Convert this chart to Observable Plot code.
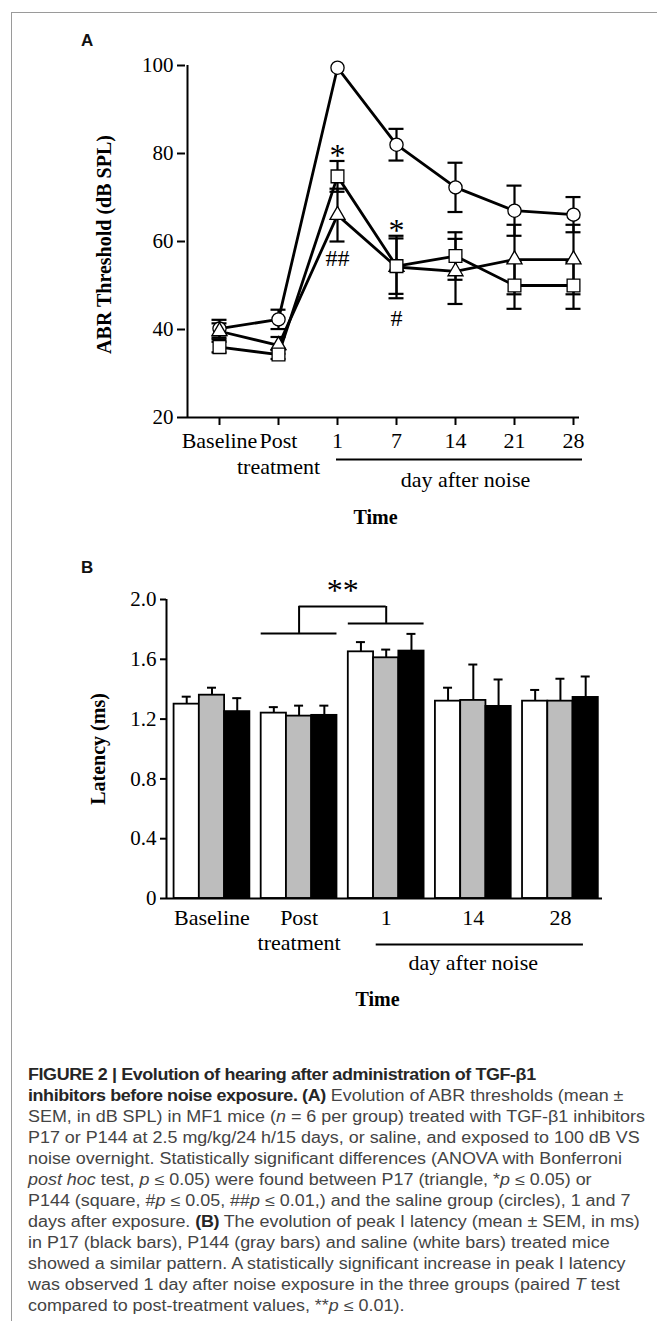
<!DOCTYPE html>
<html>
<head>
<meta charset="utf-8">
<script src="https://cdn.jsdelivr.net/npm/d3@7"></script>
<script src="https://cdn.jsdelivr.net/npm/@observablehq/plot@0.6"></script>
<style>
  body { margin: 0; background: #fff; }
  #page { position: relative; width: 657px; height: 1321px; overflow: hidden; background: #fff; }
  #frame { position: absolute; left: 11px; top: 12px; width: 700px; height: 1400px;
           border-left: 1.5px solid #9a9a9a; border-top: 1.5px solid #9a9a9a; }
  .panel { position: absolute; font: bold 17px "Liberation Sans", Arial, sans-serif; color: #111; line-height: 1; }
  #plotA { position: absolute; left: 0; top: 0; }
  #plotB { position: absolute; left: 0; top: 540px; }
  #caption { position: absolute; left: 28px; top: 1064px; transform-origin: 0 0;
             font-family: "Liberation Sans", Arial, sans-serif; font-size: 15.6px; line-height: 21px; color: #444; }
  #caption div { white-space: nowrap; }
  #caption b { color: #262626; letter-spacing: -0.35px; }
</style>
</head>
<body>
<div id="page">
  <div id="frame"></div>
  <div class="panel" style="left:81px;top:32px;">A</div>
  <div class="panel" style="left:81px;top:559px;">B</div>
  <div id="plotA"></div>
  <div id="plotB"></div>
  <div id="caption">
    <div><b>FIGURE 2 | Evolution of hearing after administration of TGF-β1</b></div>
    <div><b>inhibitors before noise exposure. (A)</b> Evolution of ABR thresholds (mean ±</div>
    <div id="fitline">SEM, in dB SPL) in MF1 mice (<i>n</i> = 6 per group) treated with TGF-β1 inhibitors</div>
    <div>P17 or P144 at 2.5 mg/kg/24 h/15 days, or saline, and exposed to 100 dB VS</div>
    <div>noise overnight. Statistically significant differences (ANOVA with Bonferroni</div>
    <div><i>post hoc</i> test, <i>p</i> ≤ 0.05) were found between P17 (triangle, *<i>p</i> ≤ 0.05) or</div>
    <div>P144 (square, #<i>p</i> ≤ 0.05, ##<i>p</i> ≤ 0.01,) and the saline group (circles), 1 and 7</div>
    <div>days after exposure. <b>(B)</b> The evolution of peak I latency (mean ± SEM, in ms)</div>
    <div>in P17 (black bars), P144 (gray bars) and saline (white bars) treated mice</div>
    <div>showed a similar pattern. A statistically significant increase in peak I latency</div>
    <div>was observed 1 day after noise exposure in the three groups (paired <i>T</i> test</div>
    <div>compared to post-treatment values, **<i>p</i> ≤ 0.01).</div>
  </div>
</div>
<script>
// ---------------- Panel A data ----------------
const timesA = ["Baseline", "Post", "1", "7", "14", "21", "28"];
const timeLabelsA = ["Baseline", "Post\ntreatment", "1", "7", "14", "21", "28"];
const yTicksA = [20, 40, 60, 80, 100];

const salineA    = [40.2, 42.3, 99.5, 82.0, 72.3, 67.0, 66.1];
const salineSemA = [2.0, 2.2, 0, 3.6, 5.6, 5.7, 4.0];
const p17A       = [39.6, 36.4, 66.0, 54.2, 53.2, 55.9, 55.9];
const p17SemA    = [1.8, 1.9, 6.0, 7.1, 7.4, 7.9, 7.9];
const p144A      = [36.0, 34.3, 74.8, 54.4, 56.7, 50.0, 50.0];
const p144SemA   = [1.2, 1.0, 3.5, 6.3, 5.4, 5.3, 5.3];

// significance marks
const marksA = [
  {time: "1", series: "P144", side: "above", label: "*"},
  {time: "7", series: "P17",  side: "above", label: "*"},
  {time: "1", series: "P17",  side: "below", label: "##"},
  {time: "7", series: "P17",  side: "below", label: "#"}
];

// ---------------- Panel B data ----------------
const groupsB = ["Baseline", "Post treatment", "1", "14", "28"];
const groupLabelsB = ["Baseline", "Post\ntreatment", "1", "14", "28"];
const yTicksB = [0, 0.4, 0.8, 1.2, 1.6, 2.0];

const salineB    = [1.30, 1.24, 1.65, 1.32, 1.32];
const salineSemB = [0.05, 0.04, 0.065, 0.09, 0.075];
const p144B      = [1.36, 1.22, 1.61, 1.325, 1.32];
const p144SemB   = [0.05, 0.07, 0.055, 0.24, 0.15];
const p17B       = [1.25, 1.225, 1.655, 1.285, 1.345];
const p17SemB    = [0.09, 0.065, 0.115, 0.18, 0.14];

// bracket: from group "Post treatment" to group "1"
const bracketB = {from: "Post treatment", to: "1", top: 1.953, fromLeg: 1.773, toLeg: 1.84, labelY: 2.06, label: "**"};

// ---------------- build rows ----------------
const seriesA = [
  {name: "saline", symbol: "circle",   r: 6.6, values: salineA, sem: salineSemA},
  {name: "P17",    symbol: "triangle", r: 5.6, values: p17A,    sem: p17SemA},
  {name: "P144",   symbol: "square",   r: 7.2, values: p144A,   sem: p144SemA}
];
const rowsA = seriesA.flatMap(s => timesA.map((t, i) => ({series: s.name, time: t, value: s.values[i], sem: s.sem[i]})));
const errA = rowsA.filter(d => d.sem > 0);
const capsA = errA.flatMap(d => [{time: d.time, y: d.value - d.sem}, {time: d.time, y: d.value + d.sem}]);
const annA = marksA.map(m => {
  const r = rowsA.find(d => d.time === m.time && d.series === m.series);
  return {...m, y: m.side === "above" ? r.value + r.sem : r.value - r.sem};
});

const serif = '"Liberation Serif", "Times New Roman", Times, serif';
const insetLeftA = 32, insetRightA = 4;

const plotA = Plot.plot({
  width: 657, height: 540,
  marginTop: 65, marginBottom: 123, marginLeft: 185, marginRight: 78,
  style: {fontFamily: serif, color: "black", background: "transparent", overflow: "visible"},
  x: {type: "point", domain: timesA, padding: 0, insetLeft: insetLeftA, insetRight: insetRightA, label: null},
  y: {domain: [20, 100], label: null},
  marks: [
    Plot.ruleY([20], {strokeWidth: 2}),
    Plot.ruleX([timesA[0]], {x: d => d, dx: -insetLeftA, strokeWidth: 2}),
    Plot.axisY({ticks: yTicksA, tickSize: 8, tickPadding: 4, fontSize: 21, strokeWidth: 2, label: null}),
    Plot.axisX({tickSize: 8, tickFormat: () => "", strokeWidth: 2, label: null}),
    Plot.text(timesA, {x: d => d, text: (d, i) => timeLabelsA[i], frameAnchor: "bottom", lineAnchor: "top", dy: 12, fontSize: 22, lineHeight: 1.18}),
    Plot.ruleY([20], {x1: () => timesA[2], x2: () => timesA[6], dy: 42, insetLeft: -1, insetRight: -9, strokeWidth: 2}),
    Plot.text(["day after noise"], {x: () => timesA[4], frameAnchor: "bottom", dy: 69, dx: 10, fontSize: 22}),
    Plot.text(["Time"], {frameAnchor: "bottom", dy: 106, dx: -7, fontSize: 20, fontWeight: "bold"}),
    Plot.text(["ABR Threshold (dB SPL)"], {frameAnchor: "left", textAnchor: "middle", rotate: -90, dx: -81, dy: 3, fontSize: 20, fontWeight: "bold"}),
    // lines
    Plot.line(rowsA, {x: "time", y: "value", z: "series", stroke: "black", strokeWidth: 2.8, strokeLinejoin: "miter"}),
    // error bars
    Plot.ruleX(errA, {x: "time", y1: d => d.value - d.sem, y2: d => d.value + d.sem, strokeWidth: 2.2}),
    Plot.ruleY(capsA, {x1: "time", x2: "time", y: "y", insetLeft: -7.5, insetRight: -7.5, strokeWidth: 2.2}),
    // markers
    ...seriesA.map(s => Plot.dot(rowsA.filter(d => d.series === s.name), {
      x: "time", y: "value", symbol: s.symbol, r: s.r, fill: "white", stroke: "black", strokeWidth: 1.3
    })),
    // significance
    Plot.text(annA.filter(d => d.label === "*"), {x: "time", y: "y", text: "label", dy: -5, fontSize: 32}),
    Plot.text(annA.filter(d => d.label === "##"), {x: "time", y: "y", text: "label", dy: 17, fontSize: 24}),
    Plot.text(annA.filter(d => d.label === "#"), {x: "time", y: "y", text: "label", dy: 20, fontSize: 24})
  ]
});
document.getElementById("plotA").appendChild(plotA);

// ---------------- Panel B ----------------
const seriesB = [
  {name: "saline", fill: "#ffffff", values: salineB, sem: salineSemB},
  {name: "P144",   fill: "#bdbdbd", values: p144B,   sem: p144SemB},
  {name: "P17",    fill: "#000000", values: p17B,    sem: p17SemB}
];
const barW = 0.29;
const rowsB = seriesB.flatMap((s, j) => groupsB.map((g, i) => ({
  series: s.name, group: g, gi: i, xc: i + (j - 1) * barW, value: s.values[i], sem: s.sem[i], fill: s.fill
})));
const xDomainB = [-0.522, 4.483];
const bi = groupsB.indexOf(bracketB.from), bj = groupsB.indexOf(bracketB.to);
const half = 1.5 * barW;

const plotB = Plot.plot({
  width: 657, height: 480,
  marginTop: 59, marginBottom: 122, marginLeft: 166, marginRight: 55,
  style: {fontFamily: serif, color: "black", background: "transparent", overflow: "visible"},
  x: {domain: xDomainB, label: null, axis: null},
  y: {domain: [0, 2], label: null},
  marks: [
    Plot.rect(rowsB, {x1: d => d.xc - barW / 2, x2: d => d.xc + barW / 2, y1: 0, y2: "value", fill: "fill", stroke: "black", strokeWidth: 1.8}),
    Plot.ruleX(rowsB, {x: "xc", y1: "value", y2: d => d.value + d.sem, strokeWidth: 2}),
    Plot.ruleY(rowsB, {x1: "xc", x2: "xc", y: d => d.value + d.sem, insetLeft: -4.5, insetRight: -4.5, strokeWidth: 2}),
    Plot.ruleY([0], {strokeWidth: 2}),
    Plot.ruleX([xDomainB[0]], {strokeWidth: 2}),
    Plot.axisY({ticks: yTicksB, tickFormat: d => d === 0 ? "0" : d.toFixed(1), tickSize: 6, tickPadding: 4, fontSize: 21, strokeWidth: 2, label: null}),
    Plot.text(groupsB, {x: (d, i) => i, text: (d, i) => groupLabelsB[i], frameAnchor: "bottom", lineAnchor: "top", dy: 9, fontSize: 22, lineHeight: 1.12}),
    Plot.ruleY([0], {x1: () => bj, x2: () => groupsB.length - 1, dy: 46, insetLeft: -10, insetRight: -23, strokeWidth: 2}),
    Plot.text(["day after noise"], {x: () => 3, frameAnchor: "bottom", dy: 71, fontSize: 22}),
    Plot.text(["Time"], {frameAnchor: "bottom", dy: 107, dx: -7, fontSize: 20, fontWeight: "bold"}),
    Plot.text(["Latency (ms)"], {frameAnchor: "left", textAnchor: "middle", rotate: -90, dx: -68, fontSize: 20, fontWeight: "bold"}),
    // bracket
    Plot.ruleY([bracketB.fromLeg], {x1: () => bi - half, x2: () => bi + half, strokeWidth: 2}),
    Plot.ruleY([bracketB.toLeg], {x1: () => bj - half, x2: () => bj + half, strokeWidth: 2}),
    Plot.ruleY([bracketB.top], {x1: () => bi, x2: () => bj, strokeWidth: 2}),
    Plot.ruleX([bi], {y1: () => bracketB.fromLeg, y2: () => bracketB.top, strokeWidth: 2}),
    Plot.ruleX([bj], {y1: () => bracketB.toLeg, y2: () => bracketB.top, strokeWidth: 2}),
    Plot.text([bracketB.label], {x: () => (bi + bj) / 2, y: () => bracketB.labelY, fontSize: 32})
  ]
});
document.getElementById("plotB").appendChild(plotB);

// fit caption width to the reference line length
const fit = document.getElementById("fitline");
const w = fit.getBoundingClientRect().width;
const k = 617 / w;
document.getElementById("caption").style.transform = `scaleX(${k})`;
</script>
</body>
</html>
